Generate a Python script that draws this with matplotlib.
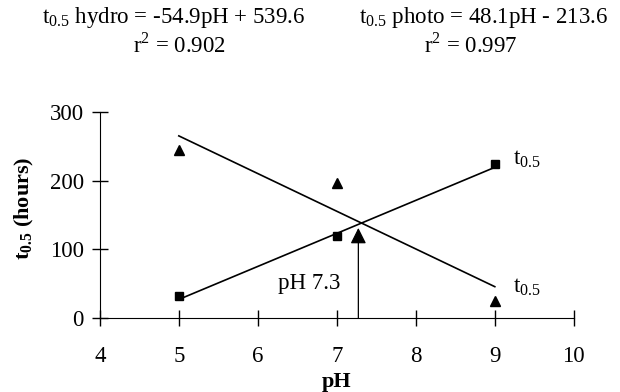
import numpy as np
import matplotlib
matplotlib.use("Agg")
import matplotlib.pyplot as plt

plt.rcParams['font.family'] = ['Liberation Serif', 'DejaVu Serif']
plt.rcParams['mathtext.fontset'] = 'custom'
plt.rcParams['mathtext.rm'] = 'Liberation Serif'
plt.rcParams['mathtext.bf'] = 'Liberation Serif:bold'

# Measured half-lives (hours) at each pH
ph = [5, 7, 9]
t_hydro = [245, 196, 24]
t_photo = [32, 119, 224]

# Regression fits
hydro_slope, hydro_int, hydro_r2 = -54.9, 539.6, 0.902
photo_slope, photo_int, photo_r2 = 48.1, -213.6, 0.997

fig = plt.figure(figsize=(6.2, 3.92), dpi=100)
ax = fig.add_axes([0.161, 0.189, 0.7645, 0.5255])

x_fit = np.array([5, 9])
ax.plot(x_fit, hydro_slope * x_fit + hydro_int, color='black', lw=1.2)
ax.plot(x_fit, photo_slope * x_fit + photo_int, color='black', lw=1.2)
ax.plot(ph, t_hydro, '^', color='black', ms=7.5, ls='none')
ax.plot(ph, t_photo, 's', color='black', ms=6, ls='none')

# Crossing point of the two fits
ph_cross = (photo_int - hydro_int) / (hydro_slope - photo_slope)
ax.annotate('', xy=(ph_cross - 0.04, 131), xytext=(ph_cross - 0.04, 0),
            arrowprops=dict(arrowstyle='-|>', color='black', lw=0.9,
                            mutation_scale=24, shrinkA=0, shrinkB=0))
ax.text(6.25, 42, 'pH 7.3', fontsize=16.5, va='baseline', ha='left')

sub = r'$\mathregular{t_{0.5}}$'
ax.text(9.23, 223, sub, fontsize=16.5, va='baseline', ha='left')
ax.text(9.23, 36, sub, fontsize=16.5, va='baseline', ha='left')

ax.set_xlim(4, 10)
ax.set_ylim(0, 300)
ax.set_xticks([4, 5, 6, 7, 8, 9, 10])
ax.set_yticks([0, 100, 200, 300])
ax.spines['top'].set_visible(False)
ax.spines['right'].set_visible(False)
ax.tick_params(direction='inout', length=11, width=1, labelsize=16.5)
ax.tick_params(axis='x', pad=15)
ax.tick_params(axis='y', pad=6)
ax.set_xlabel('pH', fontsize=16, fontweight='bold', labelpad=3)
ax.set_ylabel(r'$\mathbf{t_{0.5}}$ (hours)', fontsize=16, fontweight='bold')
ax.yaxis.set_label_coords(-0.135, 0.53)

fig.text(0.28, 0.955, sub + f' hydro = {hydro_slope}pH + {hydro_int}',
         fontsize=16.5, ha='center', va='center')
fig.text(0.29, 0.885, f'r$^2$ = {hydro_r2}', fontsize=16.5, ha='center', va='center')
fig.text(0.78, 0.955, sub + f' photo = {photo_slope}pH - {abs(photo_int)}',
         fontsize=16.5, ha='center', va='center')
fig.text(0.76, 0.885, f'r$^2$ = {photo_r2}', fontsize=16.5, ha='center', va='center')

fig.savefig('out.png', dpi=100)
